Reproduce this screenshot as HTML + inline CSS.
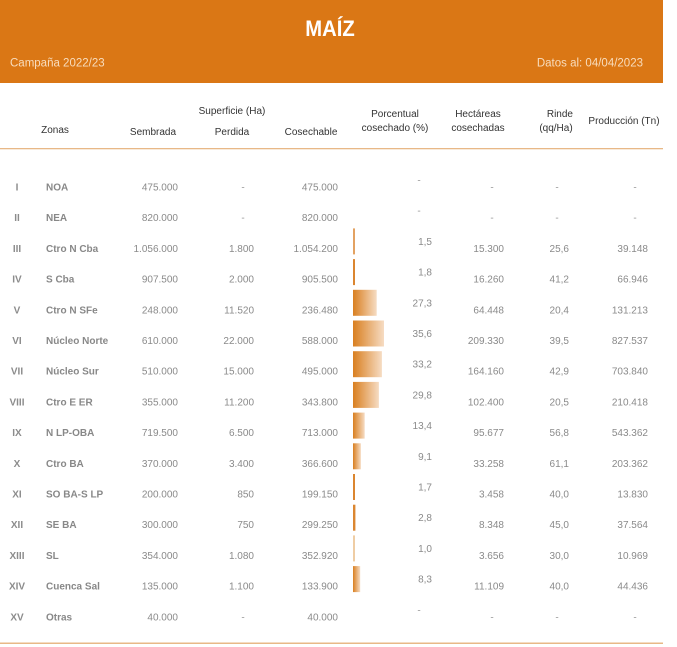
<!DOCTYPE html>
<html>
<head>
<meta charset="utf-8">
<style>
  html,body{margin:0;padding:0;background:#fff;}
  svg{display:block;}
  text{font-family:"Liberation Sans",Arial,sans-serif;}
  .h{font-size:10px;fill:#333;}
  .n{font-size:10px;fill:#8a8a8a;text-anchor:end;}
  .d{font-size:10px;fill:#9a9a9a;text-anchor:middle;}
  .r{font-size:10px;fill:#8c8c8c;font-weight:bold;text-anchor:middle;}
  .z{font-size:10px;fill:#888;font-weight:bold;}
</style>
</head>
<body>
<svg width="677" height="647" viewBox="0 0 677 647" xmlns="http://www.w3.org/2000/svg">
  <defs>
    <linearGradient id="g" x1="0" y1="0" x2="1" y2="0">
      <stop offset="0" stop-color="#D97F20"/>
      <stop offset="1" stop-color="#F6DCC3"/>
    </linearGradient>
  </defs>
  <rect width="677" height="647" fill="#fff"/>
  <!-- Header band -->
  <rect x="0" y="0" width="663" height="83" fill="#DA7715"/>
  <text x="330" y="36" text-anchor="middle" font-size="22" font-weight="bold" fill="#fff" transform="translate(330,0) scale(0.92,1) translate(-330,0)">MAÍZ</text>
  <text x="10" y="66.5" font-size="11.5" fill="#F8DDBE">Campaña 2022/23</text>
  <text x="643" y="66.5" font-size="11.5" fill="#F8DDBE" text-anchor="end">Datos al: 04/04/2023</text>

  <!-- Column headers -->
  <text class="h" x="55" y="133" text-anchor="middle">Zonas</text>
  <text class="h" x="153" y="135" text-anchor="middle">Sembrada</text>
  <text class="h" x="232" y="114" text-anchor="middle">Superficie (Ha)</text>
  <text class="h" x="232" y="135" text-anchor="middle">Perdida</text>
  <text class="h" x="311" y="135" text-anchor="middle">Cosechable</text>
  <text class="h" x="395" y="117" text-anchor="middle">Porcentual</text>
  <text class="h" x="395" y="131" text-anchor="middle">cosechado (%)</text>
  <text class="h" x="478" y="117" text-anchor="middle">Hectáreas</text>
  <text class="h" x="478" y="131" text-anchor="middle">cosechadas</text>
  <text class="h" x="573" y="117" text-anchor="end">Rinde</text>
  <text class="h" x="556" y="131" text-anchor="middle">(qq/Ha)</text>
  <text class="h" x="624" y="124" text-anchor="middle">Producción (Tn)</text>
  <rect x="0" y="148" width="663" height="1.3" fill="#E8B887"/>

  <!-- Rows: translate to row center -->
  <g transform="translate(0,187)">
    <text class="r" x="17" y="3.5">I</text><text class="z" x="46" y="3.5">NOA</text>
    <text class="n" x="178" y="3.5">475.000</text><text class="d" x="243" y="3.5">-</text><text class="n" x="338" y="3.5">475.000</text>
    <text class="d" x="419" y="-3.5">-</text>
    <text class="d" x="492" y="3.5">-</text><text class="d" x="557" y="3.5">-</text><text class="d" x="635" y="3.5">-</text>
  </g>
  <g transform="translate(0,217.7)">
    <text class="r" x="17" y="3.5">II</text><text class="z" x="46" y="3.5">NEA</text>
    <text class="n" x="178" y="3.5">820.000</text><text class="d" x="243" y="3.5">-</text><text class="n" x="338" y="3.5">820.000</text>
    <text class="d" x="419" y="-3.5">-</text>
    <text class="d" x="492" y="3.5">-</text><text class="d" x="557" y="3.5">-</text><text class="d" x="635" y="3.5">-</text>
  </g>
  <g transform="translate(0,248.4)">
    <rect x="353" y="-20" width="2" height="26" fill="#E3A262"/>
    <text class="r" x="17" y="3.5">III</text><text class="z" x="46" y="3.5">Ctro N Cba</text>
    <text class="n" x="178" y="3.5">1.056.000</text><text class="n" x="254" y="3.5">1.800</text><text class="n" x="338" y="3.5">1.054.200</text>
    <text class="n" x="432" y="-3.5">1,5</text>
    <text class="n" x="504" y="3.5">15.300</text><text class="n" x="569" y="3.5">25,6</text><text class="n" x="648" y="3.5">39.148</text>
  </g>
  <g transform="translate(0,279.1)">
    <rect x="353" y="-20" width="2" height="26" fill="#DB8630"/>
    <text class="r" x="17" y="3.5">IV</text><text class="z" x="46" y="3.5">S Cba</text>
    <text class="n" x="178" y="3.5">907.500</text><text class="n" x="254" y="3.5">2.000</text><text class="n" x="338" y="3.5">905.500</text>
    <text class="n" x="432" y="-3.5">1,8</text>
    <text class="n" x="504" y="3.5">16.260</text><text class="n" x="569" y="3.5">41,2</text><text class="n" x="648" y="3.5">66.946</text>
  </g>
  <g transform="translate(0,309.8)">
    <rect x="353" y="-20" width="23.7" height="26" fill="url(#g)"/>
    <text class="r" x="17" y="3.5">V</text><text class="z" x="46" y="3.5">Ctro N SFe</text>
    <text class="n" x="178" y="3.5">248.000</text><text class="n" x="254" y="3.5">11.520</text><text class="n" x="338" y="3.5">236.480</text>
    <text class="n" x="432" y="-3.5">27,3</text>
    <text class="n" x="504" y="3.5">64.448</text><text class="n" x="569" y="3.5">20,4</text><text class="n" x="648" y="3.5">131.213</text>
  </g>
  <g transform="translate(0,340.5)">
    <rect x="353" y="-20" width="31" height="26" fill="url(#g)"/>
    <text class="r" x="17" y="3.5">VI</text><text class="z" x="46" y="3.5">Núcleo Norte</text>
    <text class="n" x="178" y="3.5">610.000</text><text class="n" x="254" y="3.5">22.000</text><text class="n" x="338" y="3.5">588.000</text>
    <text class="n" x="432" y="-3.5">35,6</text>
    <text class="n" x="504" y="3.5">209.330</text><text class="n" x="569" y="3.5">39,5</text><text class="n" x="648" y="3.5">827.537</text>
  </g>
  <g transform="translate(0,371.2)">
    <rect x="353" y="-20" width="28.9" height="26" fill="url(#g)"/>
    <text class="r" x="17" y="3.5">VII</text><text class="z" x="46" y="3.5">Núcleo Sur</text>
    <text class="n" x="178" y="3.5">510.000</text><text class="n" x="254" y="3.5">15.000</text><text class="n" x="338" y="3.5">495.000</text>
    <text class="n" x="432" y="-3.5">33,2</text>
    <text class="n" x="504" y="3.5">164.160</text><text class="n" x="569" y="3.5">42,9</text><text class="n" x="648" y="3.5">703.840</text>
  </g>
  <g transform="translate(0,401.9)">
    <rect x="353" y="-20" width="25.9" height="26" fill="url(#g)"/>
    <text class="r" x="17" y="3.5">VIII</text><text class="z" x="46" y="3.5">Ctro E ER</text>
    <text class="n" x="178" y="3.5">355.000</text><text class="n" x="254" y="3.5">11.200</text><text class="n" x="338" y="3.5">343.800</text>
    <text class="n" x="432" y="-3.5">29,8</text>
    <text class="n" x="504" y="3.5">102.400</text><text class="n" x="569" y="3.5">20,5</text><text class="n" x="648" y="3.5">210.418</text>
  </g>
  <g transform="translate(0,432.6)">
    <rect x="353" y="-20" width="11.7" height="26" fill="url(#g)"/>
    <text class="r" x="17" y="3.5">IX</text><text class="z" x="46" y="3.5">N LP-OBA</text>
    <text class="n" x="178" y="3.5">719.500</text><text class="n" x="254" y="3.5">6.500</text><text class="n" x="338" y="3.5">713.000</text>
    <text class="n" x="432" y="-3.5">13,4</text>
    <text class="n" x="504" y="3.5">95.677</text><text class="n" x="569" y="3.5">56,8</text><text class="n" x="648" y="3.5">543.362</text>
  </g>
  <g transform="translate(0,463.3)">
    <rect x="353" y="-20" width="7.9" height="26" fill="url(#g)"/>
    <text class="r" x="17" y="3.5">X</text><text class="z" x="46" y="3.5">Ctro BA</text>
    <text class="n" x="178" y="3.5">370.000</text><text class="n" x="254" y="3.5">3.400</text><text class="n" x="338" y="3.5">366.600</text>
    <text class="n" x="432" y="-3.5">9,1</text>
    <text class="n" x="504" y="3.5">33.258</text><text class="n" x="569" y="3.5">61,1</text><text class="n" x="648" y="3.5">203.362</text>
  </g>
  <g transform="translate(0,494)">
    <rect x="353" y="-20" width="2" height="26" fill="#DB8630"/>
    <text class="r" x="17" y="3.5">XI</text><text class="z" x="46" y="3.5">SO BA-S LP</text>
    <text class="n" x="178" y="3.5">200.000</text><text class="n" x="254" y="3.5">850</text><text class="n" x="338" y="3.5">199.150</text>
    <text class="n" x="432" y="-3.5">1,7</text>
    <text class="n" x="504" y="3.5">3.458</text><text class="n" x="569" y="3.5">40,0</text><text class="n" x="648" y="3.5">13.830</text>
  </g>
  <g transform="translate(0,524.7)">
    <rect x="353" y="-20" width="2.4" height="26" fill="#DB8630"/>
    <text class="r" x="17" y="3.5">XII</text><text class="z" x="46" y="3.5">SE BA</text>
    <text class="n" x="178" y="3.5">300.000</text><text class="n" x="254" y="3.5">750</text><text class="n" x="338" y="3.5">299.250</text>
    <text class="n" x="432" y="-3.5">2,8</text>
    <text class="n" x="504" y="3.5">8.348</text><text class="n" x="569" y="3.5">45,0</text><text class="n" x="648" y="3.5">37.564</text>
  </g>
  <g transform="translate(0,555.4)">
    <rect x="353" y="-20" width="2" height="26" fill="#EFCDA4"/>
    <text class="r" x="17" y="3.5">XIII</text><text class="z" x="46" y="3.5">SL</text>
    <text class="n" x="178" y="3.5">354.000</text><text class="n" x="254" y="3.5">1.080</text><text class="n" x="338" y="3.5">352.920</text>
    <text class="n" x="432" y="-3.5">1,0</text>
    <text class="n" x="504" y="3.5">3.656</text><text class="n" x="569" y="3.5">30,0</text><text class="n" x="648" y="3.5">10.969</text>
  </g>
  <g transform="translate(0,586.1)">
    <rect x="353" y="-20" width="7.2" height="26" fill="url(#g)"/>
    <text class="r" x="17" y="3.5">XIV</text><text class="z" x="46" y="3.5">Cuenca Sal</text>
    <text class="n" x="178" y="3.5">135.000</text><text class="n" x="254" y="3.5">1.100</text><text class="n" x="338" y="3.5">133.900</text>
    <text class="n" x="432" y="-3.5">8,3</text>
    <text class="n" x="504" y="3.5">11.109</text><text class="n" x="569" y="3.5">40,0</text><text class="n" x="648" y="3.5">44.436</text>
  </g>
  <g transform="translate(0,616.8)">
    <text class="r" x="17" y="3.5">XV</text><text class="z" x="46" y="3.5">Otras</text>
    <text class="n" x="178" y="3.5">40.000</text><text class="d" x="243" y="3.5">-</text><text class="n" x="338" y="3.5">40.000</text>
    <text class="d" x="419" y="-3.5">-</text>
    <text class="d" x="492" y="3.5">-</text><text class="d" x="557" y="3.5">-</text><text class="d" x="635" y="3.5">-</text>
  </g>

  <rect x="0" y="642.5" width="663" height="1.5" fill="#E8B887"/>
</svg>
</body>
</html>
